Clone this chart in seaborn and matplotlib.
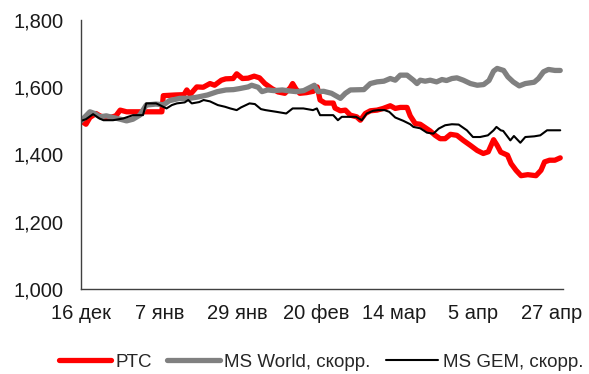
import matplotlib
matplotlib.use("Agg")
import matplotlib.pyplot as plt
import matplotlib.ticker as mticker
import seaborn as sns

# Days counted from 16 Dec; index levels rebased to 1500 at the start
rts_days = [0, 1.4, 2.5, 4.2, 5.3, 6.7, 8.1, 9.8, 11, 12.8, 22.7, 23.1, 26.4, 28.9, 29.7,
            30.6, 32.5, 34.3, 36.2, 37.5, 39.4, 40.6, 42.7, 43.7, 45.3, 46.9, 48.6, 50.1,
            51.6, 53.6, 55.3, 57.2, 58.7, 59.4, 60.3, 61.4, 63.3, 65.2, 66.3, 67.1, 68.5,
            70.8, 71.3, 72.8, 74.2, 75.6, 77.4, 78.4, 79.8, 81.2, 83.1, 84.8, 86.8, 88.2,
            89.6, 91.5, 92.4, 93.8, 95.2, 96.6, 98.0, 99.4, 100.8, 102.2, 103.7, 105.5,
            107.3, 109.3, 111.2, 112.9, 114.3, 115.8, 116.8, 117.8, 119.7, 120.7, 122.1,
            123.5, 125.4, 127.7, 129.1, 130.1, 131.5, 133.0, 134.5]
rts = [1500, 1490, 1510, 1522, 1515, 1510, 1510, 1515, 1532, 1527, 1527, 1575, 1577, 1578, 1592,
       1578, 1601, 1600, 1611, 1606, 1621, 1625, 1626, 1640, 1626, 1627, 1633, 1628,
       1611, 1596, 1586, 1582, 1598, 1611, 1595, 1582, 1584, 1588, 1601, 1562, 1553,
       1553, 1538, 1530, 1532, 1517, 1512, 1502, 1522, 1530, 1532, 1537, 1545, 1537,
       1540, 1540, 1515, 1492, 1490, 1480, 1470, 1457, 1447, 1447, 1460, 1457,
       1442, 1427, 1412, 1403, 1408, 1444, 1427, 1407, 1398, 1373, 1353,
       1337, 1340, 1337, 1353, 1378, 1383, 1383, 1390]

world_days = [0, 1.4, 2.5, 3.8, 5.3, 7.1, 9.0, 11.0, 12.8, 14.6, 16.5, 18.3, 21.0, 23.2, 24.8,
              27.7, 30.5, 32.8, 35.5, 38.3, 40.7, 42.8, 44.5, 46.9, 47.9, 49.7, 50.8, 52.4,
              54.1, 56.5, 58.5, 60.4, 62.5, 65.5, 66.5, 68.1, 70.3, 72.8, 74.2, 75.6, 79.4,
              81.2, 83.1, 85.0, 86.8, 88.2, 89.6, 91.5, 93.3, 94.3, 95.2, 96.6, 98.0, 99.8,
              101.3, 102.6, 104.1, 105.5, 107.3, 109.3, 111.2, 113.0, 114.5, 115.8, 116.8,
              118.6, 119.8, 121.3, 123.0, 124.7, 127.2, 128.4, 129.8, 131.2, 133.0, 134.5]
ms_world = [1500, 1515, 1527, 1522, 1512, 1515, 1510, 1505, 1500, 1505, 1517, 1547, 1550, 1548, 1560,
            1567, 1567, 1571, 1577, 1587, 1592, 1593, 1596, 1601, 1606, 1600, 1587, 1592,
            1590, 1592, 1589, 1587, 1590, 1606, 1587, 1588, 1582, 1567, 1582, 1592, 1593,
            1611, 1616, 1618, 1626, 1621, 1636, 1636, 1621, 1611, 1621, 1618, 1621, 1616,
            1623, 1620, 1626, 1628, 1621, 1611, 1606, 1608, 1620, 1648, 1656,
            1650, 1631, 1616, 1604, 1611, 1615, 1626, 1646, 1653, 1650, 1650]

gem_days = [0, 1.4, 3.4, 5.2, 6.3, 9.0, 11.8, 14.6, 17.4, 18.3, 21.1, 22.1, 24.0, 25.5, 26.9,
            29.1, 30.1, 31.1, 33.2, 34.4, 36.2, 38.4, 40.4, 41.9, 43.7, 44.9, 47.3, 48.8,
            50.5, 51.8, 54.8, 57.6, 59.4, 62.4, 65.1, 66.2, 67.1, 70.8, 72.1, 73.2, 75.6,
            77.2, 78.8, 80.2, 82.0, 83.4, 85.2, 86.5, 88.2, 90.5, 92.4, 93.3, 95.2, 97.1,
            98.9, 100.4, 102.2, 104.1, 106.0, 108.3, 110.0, 112.0, 114.2, 115.8, 116.6,
            117.8, 118.5, 120.5, 121.5, 123.3, 124.7, 127.2, 128.9, 130.8, 134.5]
ms_gem = [1500, 1505, 1520, 1507, 1502, 1502, 1507, 1517, 1517, 1552, 1552, 1547, 1537, 1547, 1552,
          1555, 1562, 1552, 1556, 1562, 1558, 1547, 1542, 1537, 1532, 1540, 1552, 1550,
          1535, 1532, 1527, 1522, 1537, 1537, 1532, 1537, 1517, 1517, 1502, 1512, 1512,
          1512, 1502, 1522, 1530, 1532, 1532, 1527, 1510, 1500, 1490, 1482, 1478, 1465,
          1462, 1477, 1487, 1490, 1489, 1472, 1452, 1452, 1457, 1472, 1482,
          1472, 1470, 1442, 1455, 1435, 1452, 1454, 1457, 1472, 1472]

tick_days = [0, 22, 44, 66, 88, 110, 132]
tick_labels = ["16 дек", "7 янв", "29 янв", "20 фев", "14 мар", "5 апр", "27 апр"]

sns.set_theme(style="white")
plt.rcParams["font.family"] = ["Liberation Sans", "DejaVu Sans"]

fig = plt.figure(figsize=(5.89, 3.74), dpi=100)
ax = fig.add_axes([0.1375, 0.2273, 0.8185, 0.7192])

sns.lineplot(x=rts_days, y=rts, ax=ax, color="#ff0000", linewidth=3.8, label="РТС")
sns.lineplot(x=world_days, y=ms_world, ax=ax, color="#808080", linewidth=3.8,
             label="MS World, скорр.")
sns.lineplot(x=gem_days, y=ms_gem, ax=ax, color="#000000", linewidth=1.5,
             label="MS GEM, скорр.")

ax.set_xlim(0, 135.3)
ax.set_ylim(1000, 1800)
ax.set_xticks(tick_days)
ax.set_xticklabels(tick_labels)
ax.set_yticks([1000, 1200, 1400, 1600, 1800])
ax.yaxis.set_major_formatter(mticker.FuncFormatter(lambda v, p: f"{int(v):,}"))

for side in ("top", "right"):
    ax.spines[side].set_visible(False)
for side in ("left", "bottom"):
    ax.spines[side].set_color("#404040")
    ax.spines[side].set_linewidth(1.0)

ax.tick_params(axis="both", which="major", direction="out", length=5.5, width=1.0,
               color="#404040", labelsize=14.5, labelcolor="#1a1a1a")
ax.tick_params(axis="y", pad=7)
ax.tick_params(axis="x", pad=5)
ax.set_xlabel("")
ax.set_ylabel("")

ax.get_legend().remove()
handles, labels = ax.get_legend_handles_labels()
fig.legend(handles, labels, loc="center", bbox_to_anchor=(0.545, 0.032), ncol=3,
           frameon=False, fontsize=13.5, handlelength=2.8, handletextpad=0.25,
           columnspacing=0.8, borderaxespad=0, borderpad=0)

fig.savefig("out.png", dpi=100, facecolor="white")
